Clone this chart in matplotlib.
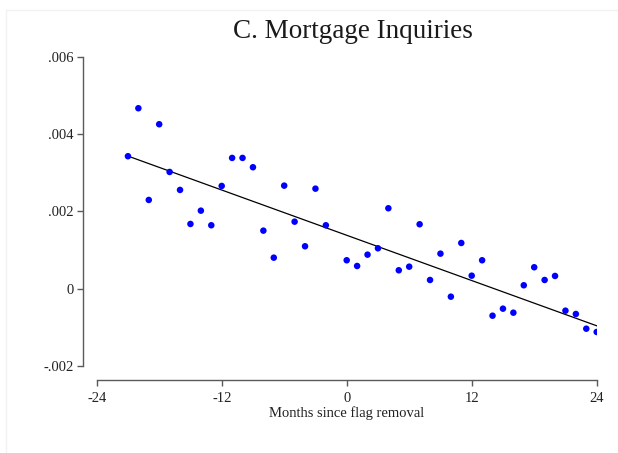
import matplotlib
matplotlib.use("Agg")
import matplotlib.pyplot as plt
import numpy as np

plt.rcParams['font.family'] = ['Liberation Serif', 'DejaVu Serif']

# event-time months (month -1 is the omitted reference period)
months = [-21, -20, -19, -18, -17, -16, -15, -14, -13, -12, -11, -10, -9, -8,
          -7, -6, -5, -4, -3, -2, 0, 1, 2, 3, 4, 5, 6, 7, 8, 9, 10, 11, 12,
          13, 14, 15, 16, 17, 18, 19, 20, 21, 22, 23, 24]
inquiries = [0.003426, 0.004667, 0.002295, 0.004253, 0.003019, 0.002554,
             0.001674, 0.002018, 0.001640, 0.002657, 0.003382, 0.003382,
             0.003141, 0.001501, 0.000802, 0.002665, 0.001733, 0.001097,
             0.002587, 0.001640, 0.000735, 0.000587, 0.000880, 0.001045,
             0.002080, 0.000476, 0.000569, 0.001666, 0.000225, 0.000906,
             -0.000207, 0.001182, 0.000336, 0.000735, -0.000699, -0.000517,
             -0.000621, 0.000088, 0.000554, 0.000225, 0.000329, -0.000569,
             -0.000655, -0.001035, -0.001120]

# linear fit as drawn in the figure (endpoints)
fit_months = [-21, 24]
fit_values = [0.00343, -0.00096]

x_ticks = [-24, -12, 0, 12, 24]
y_ticks = [-0.002, 0, 0.002, 0.004, 0.006]
y_labels = ['-.002', '0', '.002', '.004', '.006']

W, H = 618, 453
fig = plt.figure(figsize=(W / 100, H / 100), dpi=100)
ax = fig.add_axes([96.7 / W, (H - 366) / H, 500 / W, 309.3 / H])

ax.plot(fit_months, fit_values, color='black', lw=0.9, zorder=2)
ax.scatter(months, inquiries, s=22, color='#0000ff', edgecolors='none', zorder=3)

ax.set_xlim(-24, 24)
ax.set_ylim(-0.002, 0.006)
ax.set_xticks(x_ticks)
ax.set_xticklabels([str(t) for t in x_ticks])
ax.set_yticks(y_ticks)
ax.set_yticklabels(y_labels)

for s in ['top', 'right']:
    ax.spines[s].set_visible(False)
for s in ['left', 'bottom']:
    ax.spines[s].set_position(('outward', 10))
    ax.spines[s].set_color('#5a5a5a')
    ax.spines[s].set_linewidth(1.0)
ax.tick_params(direction='out', length=4.5, width=1.0, color='#5a5a5a',
               labelsize=10.5, labelcolor='#222222', pad=2)
ax.tick_params(axis='x', pad=4)

ax.set_xlabel('Months since flag removal', fontsize=10.5, color='#222222', labelpad=1)
fig.text(353 / W, 1 - 38 / H, 'C. Mortgage Inquiries', ha='center',
         va='baseline', fontsize=19.5, color='#1a1a1a')

# faint outer frame of the graph region
fig.add_artist(plt.Line2D([6 / W, 1], [1 - 10 / H, 1 - 10 / H], color='#f2f2f2', lw=1))
fig.add_artist(plt.Line2D([6 / W, 6 / W], [0, 1 - 10 / H], color='#f2f2f2', lw=1))

fig.savefig('out.png', dpi=100)
